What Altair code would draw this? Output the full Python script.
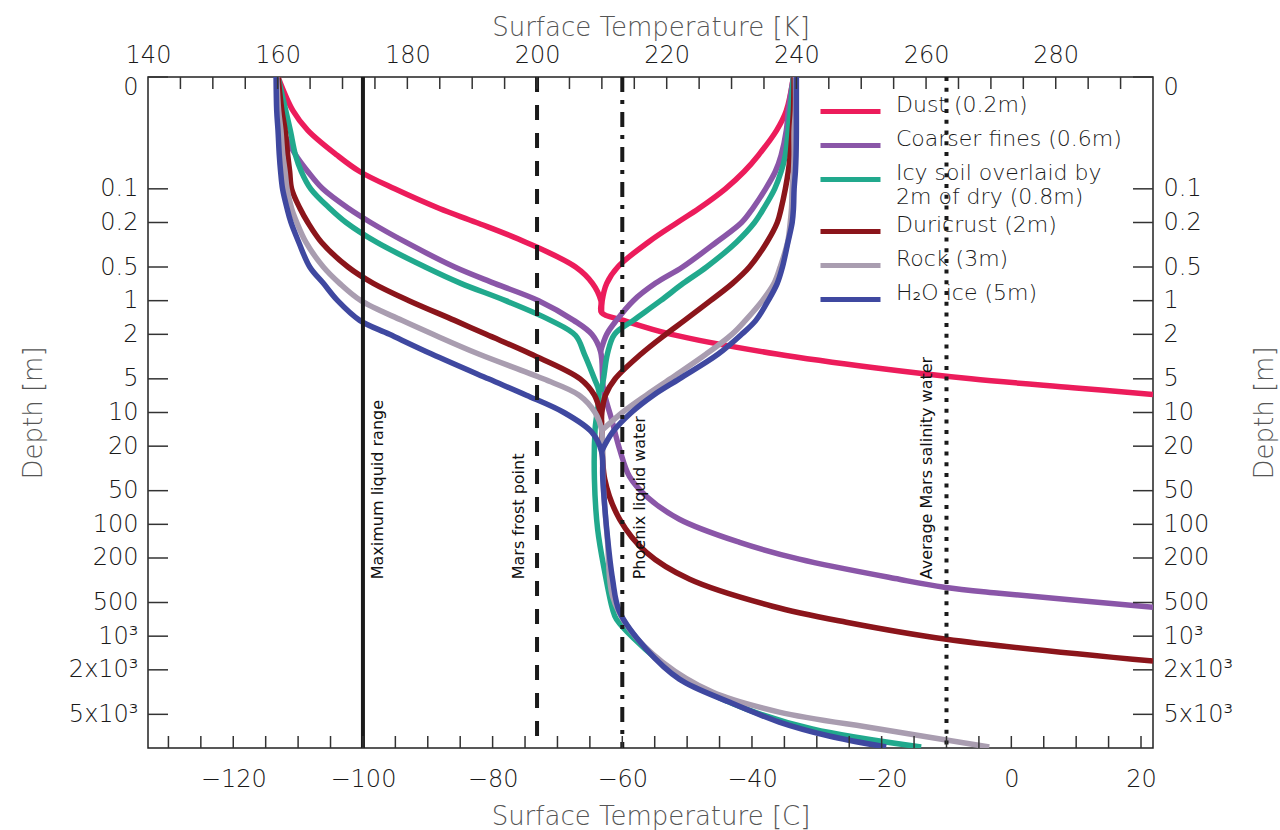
import json
import altair as alt
import pandas as pd

# ---------------- data ----------------
MATERIALS = ["Dust (0.2m)", "Coarser fines (0.6m)", "Icy soil overlaid by 2m of dry (0.8m)",
             "Duricrust (2m)", "Rock (3m)", "H\u2082O ice (5m)"]
COLORS = ["#EC1C5B", "#8A56A8", "#21A98D", "#8B151B", "#A99DB0", "#3F48A0"]

# cold (minimum-temperature) branch followed by the deep profile; depth [m], temperature [C]
DUST_COLD_DEPTH = [0.01, 0.02, 0.03, 0.05, 0.07, 0.1, 0.15, 0.2, 0.3, 0.5, 0.7, 1.0, 1.28, 1.5, 2, 3, 4, 5, 6, 6.9]
DUST_COLD_TEMP = [-113.1, -110.8, -108.5, -104.0, -100.5, -95.1, -88.2, -82.5, -74.9, -67.2, -64.6, -63.3, -63.2,
                  -59.8, -52.4, -36.2, -20.8, -6.2, 9.5, 21.85]
DUST_WARM_DEPTH = [0.01, 0.02, 0.03, 0.05, 0.07, 0.1, 0.15, 0.2, 0.3, 0.5, 0.7, 1.0, 1.28]
DUST_WARM_TEMP = [-33.6, -34.7, -36.2, -39.0, -41.2, -44.1, -48.2, -51.5, -56.0, -60.7, -62.4, -63.1, -63.2]

FINES_COLD_DEPTH = [0.01, 0.02, 0.03, 0.05, 0.07, 0.1, 0.15, 0.2, 0.3, 0.5, 0.7, 1, 1.5, 2, 2.85, 6.2, 11.5, 21.4,
                    37.3, 56, 90, 145, 205, 310, 365, 413, 551]
FINES_COLD_TEMP = [-113.1, -112.7, -112.35, -110.35, -108.5, -106.2, -102.2, -98.8, -93.4, -85.85, -79.7, -72.9,
                   -67.5, -64.7, -63.35, -62.9, -61.65, -60.4, -58.9, -56.3, -51.2, -41.9, -32.7, -17.3, -10.35,
                   -1.9, 21.85]
FINES_WARM_DEPTH = [0.01, 0.02, 0.03, 0.05, 0.07, 0.1, 0.15, 0.2, 0.3, 0.5, 0.7, 1, 1.5, 2, 2.85]
FINES_WARM_TEMP = [-33.6, -34.4, -34.7, -35.5, -36.4, -37.9, -39.9, -41.6, -45.5, -50.7, -54.9, -58.3, -60.9,
                   -62.4, -63.35]

ICY_COLD_DEPTH = [0.01, 0.02, 0.03, 0.05, 0.07, 0.1, 0.15, 0.2, 0.3, 0.5, 0.7, 1, 1.5, 2.05, 3, 5, 6.5, 14.2, 39.6,
                  111, 268, 574, 705, 1604, 2794, 4486, 6763, 9800]
ICY_COLD_TEMP = [-113.1, -111.9, -111.2, -110.4, -109.5, -108.05, -105.1, -102.6, -97.9, -90.4, -84.9, -78.0,
                 -71.05, -67.2, -65.85, -64.3, -63.6, -64.2, -64.3, -63.8, -62.7, -61.5, -60.9, -54.7, -48.55,
                 -40.85, -30.7, -13.9]
ICY_WARM_DEPTH = [0.01, 0.02, 0.03, 0.05, 0.07, 0.1, 0.15, 0.2, 0.3, 0.5, 0.7, 1, 1.5, 2, 3, 5, 6.5]
ICY_WARM_TEMP = [-33.6, -34.1, -34.4, -34.85, -35.5, -36.5, -38.2, -39.6, -42.4, -47.0, -50.6, -54.1, -58.3,
                 -61.2, -62.3, -62.9, -63.3]

DURI_COLD_DEPTH = [0.01, 0.02, 0.03, 0.05, 0.07, 0.1, 0.15, 0.2, 0.3, 0.5, 0.7, 1, 1.5, 2, 3, 5, 7, 10, 12.3, 39.6,
                   90.2, 178, 310, 540, 750, 1064, 1671]
DURI_COLD_TEMP = [-113.1, -112.5, -112.0, -111.6, -111.3, -111.0, -109.7, -108.5, -106.4, -102.3, -98.4, -92.9,
                  -85.85, -81.0, -74.1, -66.5, -64.3, -63.4, -63.2, -62.7, -60.4, -56.3, -49.6, -36.85, -25.45,
                  -10.0, 21.85]
DURI_WARM_DEPTH = [0.01, 0.02, 0.03, 0.05, 0.07, 0.1, 0.15, 0.2, 0.3, 0.5, 0.7, 1, 1.5, 2, 3, 5, 7, 10, 12.3]
DURI_WARM_TEMP = [-33.5, -33.6, -33.8, -34.1, -34.4, -34.85, -35.5, -36.1, -37.7, -40.4, -43.0, -46.4, -50.4,
                  -53.3, -57.1, -61.1, -62.6, -63.15, -63.2]

ROCK_COLD_DEPTH = [0.01, 0.02, 0.03, 0.05, 0.07, 0.1, 0.15, 0.2, 0.3, 0.5, 0.7, 1, 1.5, 2, 3, 5, 7, 10, 14.2, 39.6,
                   136, 439, 866, 1707, 3162, 4773, 6763, 9800]
ROCK_COLD_TEMP = [-113.3, -113.0, -112.65, -112.35, -112.0, -111.7, -111.0, -110.2, -108.8, -106.1, -103.6,
                  -100.3, -94.0, -89.2, -82.15, -72.2, -66.65, -64.2, -63.2, -63.0, -62.3, -61.5, -58.9, -53.8,
                  -46.1, -35.8, -20.35, -3.4]
ROCK_WARM_DEPTH = [0.01, 0.02, 0.03, 0.05, 0.07, 0.1, 0.15, 0.2, 0.3, 0.5, 0.7, 1, 1.5, 2, 3, 5, 7, 10, 14.2]
ROCK_WARM_TEMP = [-33.3, -33.3, -33.5, -33.5, -33.6, -33.8, -33.9, -34.1, -34.5, -35.65, -36.6, -38.4, -41.0,
                  -43.1, -47.05, -52.6, -56.3, -60.0, -63.0]

ICE_COLD_DEPTH = [0.01, 0.02, 0.03, 0.05, 0.07, 0.1, 0.15, 0.2, 0.3, 0.5, 0.7, 1, 1.5, 2, 3, 5, 7, 10, 15, 22.3,
                  39.6, 111, 310, 611, 1306, 2421, 3884, 5862, 7816, 9800]
ICE_COLD_TEMP = [-113.4, -113.3, -113.1, -112.9, -112.7, -112.4, -111.7, -111.1, -109.9, -108.2, -106.1, -103.9,
                 -100.5, -95.9, -89.4, -80.65, -74.8, -69.0, -64.7, -63.2, -63.0, -62.4, -61.5, -60.4, -56.3,
                 -51.2, -43.5, -35.8, -28.1, -19.3]
ICE_WARM_DEPTH = [0.01, 0.02, 0.03, 0.05, 0.07, 0.1, 0.15, 0.2, 0.3, 0.5, 0.7, 1, 1.5, 2, 3, 5, 7, 10, 15, 22.3]
ICE_WARM_TEMP = [-33.15, -33.15, -33.15, -33.2, -33.3, -33.5, -33.6, -33.8, -34.45, -35.3, -36.1, -37.5, -39.4,
                 -41.6, -45.2, -51.2, -55.2, -58.6, -61.5, -63.2]

# reference temperatures (vertical lines) and their labels
REF_TEMP = [-100.0, -73.15, -60.0, -10.0]
REF_STYLE = ["solid", "dashed", "dashdot", "dotted"]
REF_LABEL = ["Maximum liquid range", "Mars frost point", "Phoenix liquid water", "Average Mars salinity water"]
REF_LABEL_TEMP = [-97.7, -76.0, -57.2, -13.0]
REF_LABEL_DEPTH = [310, 310, 310, 310]

# axes
TOP_LABEL_K = [140, 160, 180, 200, 220, 240, 260, 280]
TOP_TICK_K = list(range(145, 295, 5))
BOTTOM_LABEL_C = [-120, -100, -80, -60, -40, -20, 0, 20]
BOTTOM_TICK_C = list(range(-130, 25, 5))
Y_LABEL_POS = [0.0123, 0.1, 0.2, 0.5, 1, 2, 5, 10, 20, 50, 100, 200, 500, 1000, 2000, 5000]
Y_LABEL_TEXT = ["0", "0.1", "0.2", "0.5", "1", "2", "5", "10", "20", "50", "100", "200", "500",
                "10\u00b3", "2x10\u00b3", "5x10\u00b3"]
Y_TICK_POS = [0.01, 0.1, 0.2, 0.5, 1, 2, 5, 10, 20, 50, 100, 200, 500, 1000, 2000, 5000]
X_DOMAIN_K = [140, 295]
Y_DOMAIN = [0.01, 10000]

# ---------------- build tables ----------------
series = [
    (DUST_COLD_DEPTH, DUST_COLD_TEMP, DUST_WARM_DEPTH, DUST_WARM_TEMP),
    (FINES_COLD_DEPTH, FINES_COLD_TEMP, FINES_WARM_DEPTH, FINES_WARM_TEMP),
    (ICY_COLD_DEPTH, ICY_COLD_TEMP, ICY_WARM_DEPTH, ICY_WARM_TEMP),
    (DURI_COLD_DEPTH, DURI_COLD_TEMP, DURI_WARM_DEPTH, DURI_WARM_TEMP),
    (ROCK_COLD_DEPTH, ROCK_COLD_TEMP, ROCK_WARM_DEPTH, ROCK_WARM_TEMP),
    (ICE_COLD_DEPTH, ICE_COLD_TEMP, ICE_WARM_DEPTH, ICE_WARM_TEMP),
]
rows = []
for mi, (name, (cd, ct, wd, wt)) in enumerate(zip(MATERIALS, series)):
    for br, dd, tt in (("cold", cd, ct), ("warm", wd, wt)):
        for i, (d, t) in enumerate(zip(dd, tt)):
            rows.append({"material": name, "branch": br, "seq": i, "depth": d, "temp": t, "mi": mi})
curves_df = pd.DataFrame(rows)

ref_df = pd.DataFrame({"temp": REF_TEMP, "style": REF_STYLE})
ref_lab_df = pd.DataFrame({"temp": REF_LABEL_TEMP, "depth": REF_LABEL_DEPTH, "label": REF_LABEL})
top_df = pd.DataFrame({"c": [k - 273.15 for k in TOP_TICK_K]})
bot_df = pd.DataFrame({"c": BOTTOM_TICK_C})
ytick_df = pd.DataFrame({"d": Y_TICK_POS})

W, H = 1005, 671
FONT = "DejaVu Sans"
TICK_COLOR = "#333333"

xs = alt.Scale(domain=[k - 273.15 for k in X_DOMAIN_K], nice=False, zero=False)
ys = alt.Scale(type="log", domain=Y_DOMAIN, reverse=True, nice=False)

label_expr_y = f"{json.dumps(Y_LABEL_TEXT)}[indexof({json.dumps(Y_LABEL_POS)}, datum.value)]"

common_axis = dict(ticks=False, domain=False, grid=False, labelFont=FONT, labelFontSize=24,
                   labelFontWeight=300, labelColor="#1a1a1a", titleFont=FONT, titleFontSize=26,
                   titleColor="#555555", titleFontWeight=300)

bottom_axis = alt.Axis(orient="bottom", values=BOTTOM_LABEL_C, format="d", labelFlush=False,
                       labelPadding=19, title="Surface Temperature [C]", titlePadding=12, **common_axis)
top_axis = alt.Axis(orient="top", values=[k - 273.15 for k in TOP_LABEL_K],
                    labelExpr="format(datum.value + 273.15, 'd')", labelFlush=False,
                    labelPadding=10, title="Surface Temperature [K]", titlePadding=3, **common_axis)
left_axis = alt.Axis(orient="left", values=Y_LABEL_POS, labelExpr=label_expr_y, labelFlush=False,
                     labelPadding=10, title="Depth [m]", titlePadding=22, **common_axis)
right_axis = alt.Axis(orient="right", values=Y_LABEL_POS, labelExpr=label_expr_y, labelFlush=False,
                      labelPadding=10, title="Depth [m]", titlePadding=45, titleAngle=270, **common_axis)

multi_label = ("datum.label == 'Icy soil overlaid by 2m of dry (0.8m)' ? "
               "['Icy soil overlaid by', '2m of dry (0.8m)'] : datum.label")

curves = alt.Chart(curves_df).mark_line(strokeWidth=5.5, clip=True, interpolate="catmull-rom").encode(
    x=alt.X("temp:Q", scale=xs, axis=bottom_axis),
    y=alt.Y("depth:Q", scale=ys, axis=left_axis),
    color=alt.Color("material:N", scale=alt.Scale(domain=MATERIALS, range=COLORS),
                    legend=alt.Legend(orient="none", legendX=670, legendY=22, title=None,
                                      symbolType="M-1,0H5", symbolSize=400, symbolStrokeWidth=5,
                                      labelFont=FONT, labelFontSize=22, labelFontWeight=300,
                                      labelColor="#1a1a1a", labelLimit=600, labelOffset=53,
                                      labelBaseline="alphabetic", rowPadding=5, padding=0,
                                      labelExpr=multi_label)),
    detail="branch:N",
    order="seq:Q",
)

ref_lines = alt.Chart(ref_df).mark_rule(strokeWidth=4, color="#1a1a1a").encode(
    x=alt.X("temp:Q", scale=xs, axis=None),
    strokeDash=alt.StrokeDash("style:N", scale=alt.Scale(domain=REF_STYLE,
                              range=[[1, 0], [15, 13], [15, 8, 4, 8], [4, 6.7]]), legend=None),
)

ref_text = alt.Chart(ref_lab_df).mark_text(angle=270, align="left", baseline="middle", font=FONT,
                                           fontSize=16, color="#111111").encode(
    x=alt.X("temp:Q", scale=xs, axis=None),
    y=alt.Y("depth:Q", scale=ys, axis=None),
    text="label:N",
)

top_ticks = alt.Chart(top_df).mark_rule(color=TICK_COLOR, strokeWidth=1.5).encode(
    x=alt.X("c:Q", scale=xs, axis=top_axis), y=alt.value(0), y2=alt.value(12))
bot_ticks = alt.Chart(bot_df).mark_rule(color=TICK_COLOR, strokeWidth=1.5).encode(
    x=alt.X("c:Q", scale=xs, axis=None), y=alt.value(H - 12), y2=alt.value(H))
left_ticks = alt.Chart(ytick_df).mark_rule(color=TICK_COLOR, strokeWidth=1.5).encode(
    y=alt.Y("d:Q", scale=ys, axis=None), x=alt.value(0), x2=alt.value(20))
right_ticks = alt.Chart(ytick_df).mark_rule(color=TICK_COLOR, strokeWidth=1.5).encode(
    y=alt.Y("d:Q", scale=ys, axis=right_axis), x=alt.value(W - 20), x2=alt.value(W))

chart = alt.layer(
    curves, ref_lines, ref_text, top_ticks, bot_ticks, left_ticks, right_ticks
).resolve_axis(x="independent", y="independent").properties(
    width=W, height=H,
    padding={"left": 148, "top": 77, "right": 127, "bottom": 82},
    autosize=alt.AutoSizeParams(type="none"),
    background="white",
).configure_view(stroke="#222222", strokeWidth=1.5)

chart.save("out.html", embed_options={"renderer": "svg", "actions": False})
